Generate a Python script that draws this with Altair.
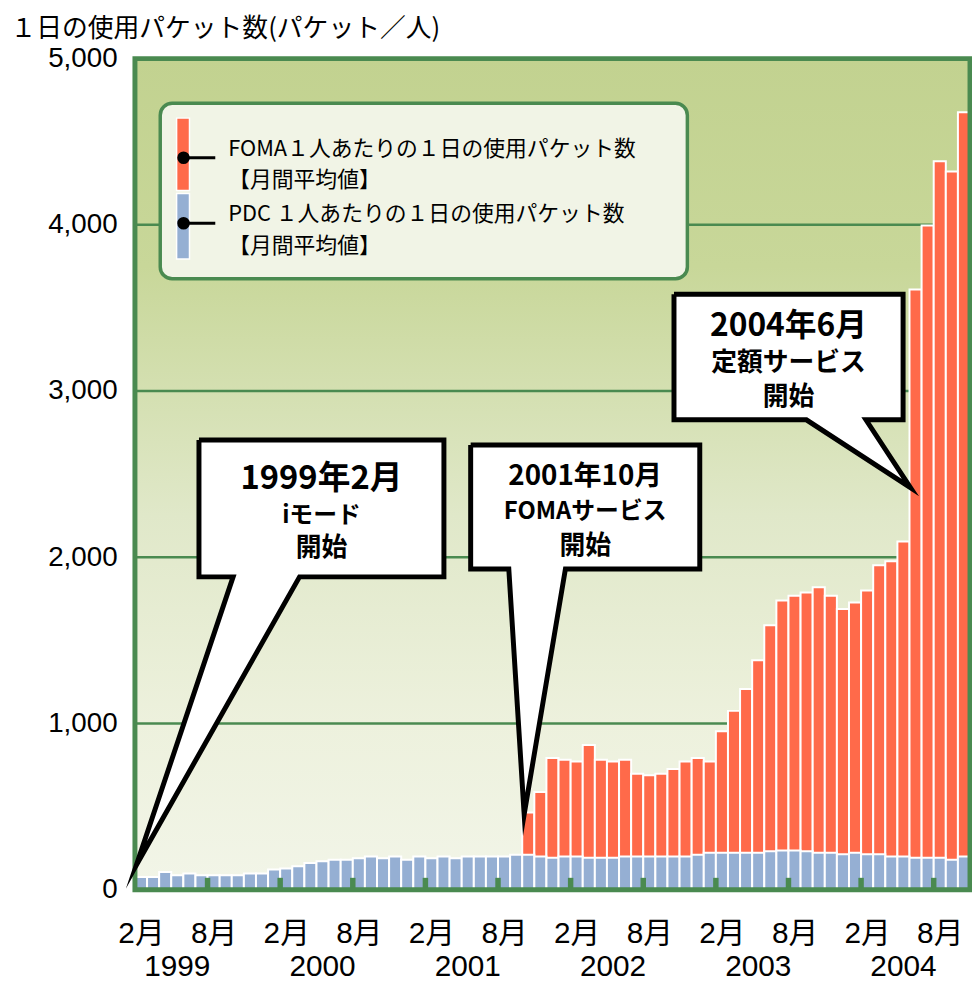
import altair as alt
import pandas as pd

# ---------------- data ----------------
first_month = (1999, 2)   # Feb 1999 .. Oct 2004, one bar per month
n_months = 69
months = [f"{1999 + (m - 1) // 12}-{(m - 1) % 12 + 1:02d}" for m in range(2, 2 + n_months)]

pdc = [77, 77, 107, 87, 97, 87, 87, 87, 87, 97,
       97, 121, 127, 141, 161, 171, 180, 180, 190, 200,
       190, 200, 180, 200, 190, 200, 190, 200, 200, 200,
       200, 210, 210, 200, 192, 200, 200, 192, 192, 192,
       200, 200, 200, 200, 200, 200, 210, 222, 222, 222,
       222, 222, 232, 236, 236, 232, 222, 222, 213, 222,
       213, 213, 200, 200, 192, 192, 192, 180, 200]

foma_start = "2001-10"
foma = [464, 588, 792, 782, 772, 871, 782, 772, 782, 698,
        689, 698, 726, 772, 792, 772, 954, 1076, 1208, 1381,
        1591, 1740, 1768, 1788, 1820, 1768, 1689, 1728, 1800, 1952,
        1976, 2095, 3611, 3996, 4383, 4321, 4677]

y_ticks = [0, 1000, 2000, 3000, 4000, 5000]
grid_vals = [1000, 2000, 3000, 4000]
month_tick_labels = ["2月", "8月"]
years = ["1999", "2000", "2001", "2002", "2003", "2004"]

title_text = "１日の使用パケット数(パケット／人)"
legend_texts = ["FOMA１人あたりの１日の使用パケット数", "【月間平均値】",
                "PDC １人あたりの１日の使用パケット数", "【月間平均値】"]

# callouts: polygon vertices in (month index, packets) data space
callouts = {
    "imode": [(5.29, 2706), (25.53, 2706), (25.53, 1882), (13.60, 1882), (0.12, 149),
              (8.11, 1882), (5.29, 1882), (5.29, 2706)],
    "foma": [(27.74, 2676), (46.67, 2676), (46.67, 1930), (35.57, 1930), (32.16, 453),
             (30.89, 1930), (27.74, 1930), (27.74, 2676)],
    "flat": [(44.54, 3583), (63.47, 3583), (63.47, 2827), (60.40, 2827), (64.08, 2419),
             (55.48, 2827), (44.54, 2827), (44.54, 3583)],
}
callout_texts = [
    (15.41, 2470, "1999年2月", 33), (15.41, 2249, "iモード", 24), (15.41, 2053, "開始", 26),
    (37.20, 2482, "2001年10月", 28), (37.20, 2273, "FOMAサービス", 24), (37.20, 2070, "開始", 26),
    (54.0, 3393, "2004年6月", 32), (54.0, 3168, "定額サービス", 26), (54.0, 2966, "開始", 26),
]

# ---------------- styles ----------------
W, H = 842, 838
ORANGE = "#FF6A4A"
BLUE = "#95AFD3"
GREEN = "#4A8A50"
JP = "Noto Sans CJK JP"
LAT = "Liberation Sans, Noto Sans CJK JP"

XS = alt.Scale(domain=[0, n_months], nice=False, zero=False)
YS = alt.Scale(domain=[0, 5000], nice=False)

month_vals = [0.5 + 6 * k for k in range(12)]
xaxis = alt.Axis(values=month_vals,
                 labelExpr=f"(datum.value - 0.5) % 12 == 0 ? '{month_tick_labels[0]}' : '{month_tick_labels[1]}'",
                 title=None, domain=False, ticks=False, tickSize=0, grid=False,
                 labelFont=LAT, labelFontSize=30, labelColor="black",
                 labelPadding=53, labelBaseline="alphabetic", labelAngle=0)
yaxis = alt.Axis(values=y_ticks, format=",d", title=title_text, titleAngle=0,
                 titleAlign="left", titleBaseline="middle", titleX=-126, titleY=-30,
                 titleFont=JP, titleFontSize=26, titleFontWeight="normal", titleColor="black",
                 domain=False, ticks=False, tickSize=0, grid=False,
                 labelFont="Liberation Sans", labelFontSize=28, labelColor="black",
                 labelPadding=18)


def X(f="x"):
    return alt.X(f"{f}:Q", scale=XS, axis=xaxis)


def Y(f="y"):
    return alt.Y(f"{f}:Q", scale=YS, axis=yaxis)


one = pd.DataFrame({"a": [0]})
layers = []

# background gradient
layers.append(alt.Chart(one).mark_rect(
    fill=alt.Gradient(gradient="linear", x1=0, x2=0, y1=0, y2=1,
                      stops=[alt.GradientStop(color="#C2D290", offset=0),
                             alt.GradientStop(color="#C8D799", offset=0.25),
                             alt.GradientStop(color="#E0E8C9", offset=0.55),
                             alt.GradientStop(color="#EDF1DD", offset=0.8),
                             alt.GradientStop(color="#F2F5E8", offset=1)])
).encode(x=alt.value(0), x2=alt.value(W), y=alt.value(0), y2=alt.value(H)))

# grid lines
layers.append(alt.Chart(pd.DataFrame({"y": grid_vals})).mark_rule(
    color=GREEN, strokeWidth=2.5).encode(y=Y(), x=alt.value(0), x2=alt.value(W)))

# bars
fs_idx = months.index(foma_start)
foma_df = pd.DataFrame({"month": months[fs_idx:fs_idx + len(foma)],
                        "x": [fs_idx + i for i in range(len(foma))],
                        "x2": [fs_idx + i + 1 for i in range(len(foma))],
                        "y": foma, "y0": 0})
pdc_df = pd.DataFrame({"month": months, "x": list(range(n_months)),
                       "x2": [i + 1 for i in range(n_months)], "y": pdc, "y0": 0})
layers.append(alt.Chart(foma_df).mark_rect(color=ORANGE, stroke="white", strokeWidth=2).encode(
    x=X(), x2="x2:Q", y=Y(), y2="y0:Q"))
layers.append(alt.Chart(pdc_df).mark_rect(color=BLUE, stroke="white", strokeWidth=2).encode(
    x=X(), x2="x2:Q", y=Y(), y2="y0:Q"))

# small green ticks at Feb / Aug
tick_df = pd.DataFrame({"x": [6 * k for k in range(1, 12)]})
layers.append(alt.Chart(tick_df).mark_rule(color=GREEN, strokeWidth=5.5).encode(
    x=X(), y=alt.value(H), y2=alt.value(H - 12)))

# border
layers.append(alt.Chart(one).mark_rect(fillOpacity=0, stroke=GREEN, strokeWidth=5).encode(
    x=alt.value(0), x2=alt.value(W), y=alt.value(0), y2=alt.value(H)))

# year labels
year_df = pd.DataFrame({"x": [3.5 + 12 * k for k in range(len(years))], "t": years})
layers.append(alt.Chart(year_df).mark_text(font=LAT, fontSize=30, color="black",
                                           baseline="alphabetic", align="center").encode(
    x=X(), y=alt.value(924.5), text="t:N"))

# legend
layers.append(alt.Chart(one).mark_rect(fill="#F1F4E6", stroke=GREEN, strokeWidth=3.5,
                                       cornerRadius=12).encode(
    x=alt.value(25.5), x2=alt.value(557), y=alt.value(45), y2=alt.value(222)))
for col, y1, y2 in [(ORANGE, 60, 133), (BLUE, 136, 202)]:
    layers.append(alt.Chart(one).mark_rect(color=col, stroke="white", strokeWidth=1.5).encode(
        x=alt.value(42), x2=alt.value(55), y=alt.value(y1), y2=alt.value(y2)))
for yy in [100, 166]:
    layers.append(alt.Chart(one).mark_rule(color="black", strokeWidth=3).encode(
        x=alt.value(49), x2=alt.value(81), y=alt.value(yy)))
    layers.append(alt.Chart(one).mark_point(filled=True, color="black", size=160, opacity=1).encode(
        x=alt.value(49), y=alt.value(yy)))
for t, yy in zip(legend_texts, [91, 122, 157, 189]):
    layers.append(alt.Chart(one).mark_text(text=t, font=JP, fontSize=22, color="black",
                                           align="left", baseline="middle").encode(
        x=alt.value(94), y=alt.value(yy)))

# callouts
rows = []
for cid, pts in callouts.items():
    for o, (cx, cy) in enumerate(pts):
        rows.append({"id": cid, "o": o, "x": cx, "y": cy})
call_df = pd.DataFrame(rows)
layers.append(alt.Chart(call_df).mark_line(fill="white", stroke="black", strokeWidth=5,
                                           strokeJoin="miter", strokeMiterLimit=20).encode(
    x=X(), y=Y(), order="o:Q", detail="id:N"))
ct_df = pd.DataFrame(callout_texts, columns=["x", "y", "t", "fs"])
layers.append(alt.Chart(ct_df).mark_text(font=JP, fontWeight="bold", color="black",
                                         align="center", baseline="middle").encode(
    x=X(), y=Y(), text="t:N", size=alt.Size("fs:Q", scale=None)))

chart = alt.layer(*layers).properties(
    width=W, height=H, autosize="none",
    padding={"left": 128, "top": 47, "right": 2, "bottom": 88},
).configure_view(strokeWidth=0)

chart.save("out.html", embed_options={"renderer": "svg", "actions": False})
